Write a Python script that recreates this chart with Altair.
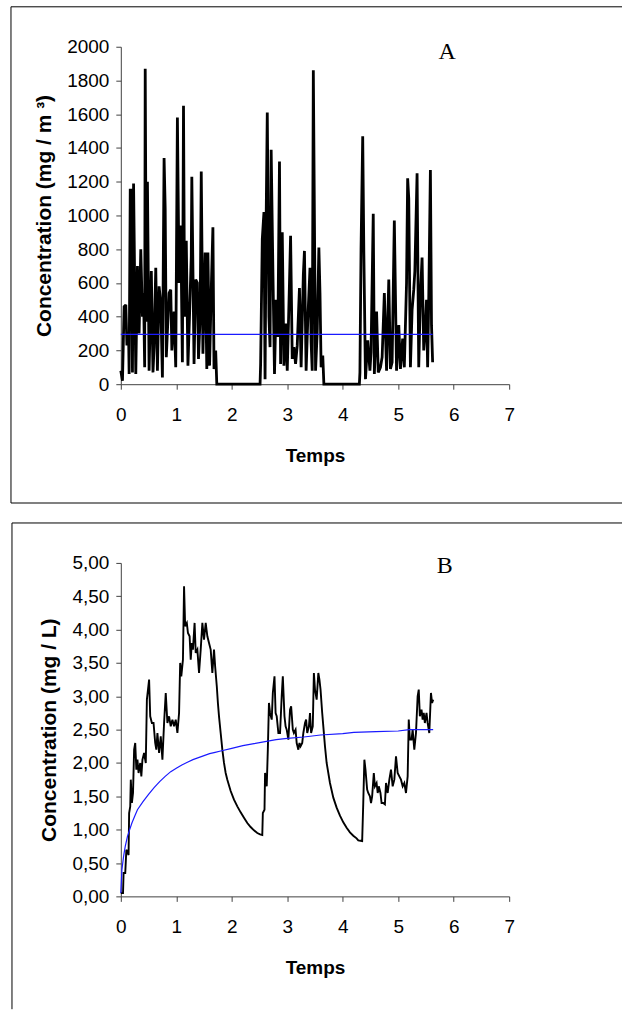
import altair as alt
import pandas as pd

# ---------------- Panel A data ----------------
ta = [0.00, 0.03, 0.06, 0.09, 0.11, 0.14, 0.15, 0.17, 0.19, 0.21, 0.23, 0.25, 0.27, 0.30, 0.33,
      0.36, 0.39, 0.41, 0.43, 0.44, 0.46, 0.48, 0.51, 0.55, 0.58, 0.60, 0.63, 0.66, 0.69, 0.72,
      0.75, 0.78, 0.80, 0.82, 0.87, 0.90, 0.92, 0.96, 0.99, 1.02, 1.05, 1.08, 1.11, 1.13, 1.15,
      1.18, 1.21, 1.24, 1.27, 1.28, 1.32, 1.35, 1.38, 1.40, 1.43, 1.45, 1.48, 1.52, 1.55, 1.57,
      1.60, 1.63, 1.66, 1.68, 1.71, 1.73,
      2.51,
      2.52, 2.55, 2.58, 2.60, 2.62, 2.64, 2.67, 2.69, 2.71, 2.74, 2.77, 2.80, 2.83, 2.86, 2.88,
      2.91, 2.94, 2.97, 3.00, 3.04, 3.06, 3.09, 3.12, 3.15, 3.18, 3.22, 3.25, 3.29, 3.31, 3.34,
      3.37, 3.41, 3.43, 3.45, 3.47, 3.51, 3.54, 3.57, 3.59, 3.61, 3.64, 3.66,
      4.30,
      4.31, 4.33, 4.36, 4.38, 4.41, 4.45, 4.49, 4.51, 4.55, 4.57, 4.61, 4.64, 4.68, 4.71, 4.75,
      4.79, 4.83, 4.86, 4.89, 4.93, 4.97, 5.01, 5.04, 5.08, 5.11, 5.15, 5.17, 5.19, 5.22, 5.25,
      5.28, 5.30, 5.34, 5.37, 5.40, 5.43, 5.46, 5.49, 5.51, 5.53, 5.55, 5.58, 5.60, 5.62]
ca = [80, 20, 460, 470, 230, 300, 60, 1150, 1150, 70, 1190, 600, 60, 700, 300,
      800, 400, 540, 100, 1870, 370, 1200, 80, 670, 70, 220, 690, 80, 580, 480,
      40, 1340, 1040, 160, 540, 560, 200, 430, 100, 1580, 600, 940, 130, 1650, 400,
      850, 110, 420, 760, 1230, 120, 620, 600, 150, 400, 1260, 180, 780, 90, 780,
      110, 560, 930, 90, 200, 0,
      0,
      120, 860, 1020, 30, 990, 1610, 400, 220, 1390, 700, 60, 500, 280, 1320, 120,
      900, 110, 360, 80, 600, 880, 150, 220, 120, 230, 570, 100, 650, 790, 80,
      380, 690, 250, 80, 1860, 80, 310, 810, 540, 100, 170, 0,
      0,
      70, 800, 1470, 790, 30, 260, 80, 190, 1010, 60, 430, 70, 100, 160, 540,
      80, 620, 90, 130, 970, 80, 350, 90, 270, 100, 600, 1220, 1100, 100, 440,
      560, 670, 1250, 100, 530, 750, 200, 330, 500, 100, 500, 1270, 350, 130]
ta_mean = [0.00, 5.62]
ca_mean = [295, 295]

# ---------------- Panel B data ----------------
tb = [0.00, 0.04, 0.05, 0.08, 0.10, 0.14, 0.15, 0.17, 0.18, 0.20, 0.22, 0.24, 0.26, 0.28, 0.30,
      0.32, 0.35, 0.37, 0.39, 0.42, 0.45, 0.47, 0.49, 0.51, 0.53, 0.56, 0.59, 0.62, 0.64, 0.66,
      0.69, 0.72, 0.75, 0.78, 0.81, 0.84, 0.87, 0.90, 0.93, 0.96, 0.99, 1.02, 1.05, 1.07, 1.09,
      1.12, 1.14, 1.16, 1.19, 1.21, 1.24, 1.26, 1.28, 1.30, 1.33, 1.35, 1.38, 1.41, 1.44, 1.47,
      1.50, 1.53, 1.56, 1.59, 1.62, 1.65, 1.68, 1.70, 1.73, 1.75, 1.77, 1.80, 1.83, 1.86, 1.89,
      1.92, 1.98, 2.04, 2.10, 2.16, 2.22, 2.28, 2.34, 2.40, 2.46, 2.51, 2.55,
      2.56, 2.59, 2.60, 2.63, 2.65, 2.67, 2.69, 2.72, 2.74, 2.77, 2.79, 2.81, 2.84, 2.87, 2.90,
      2.92, 2.95, 2.97, 2.99, 3.02, 3.05, 3.07, 3.10, 3.12, 3.15, 3.17, 3.20, 3.22, 3.24, 3.27,
      3.29, 3.32, 3.34, 3.36, 3.39, 3.41, 3.43, 3.46, 3.48, 3.50, 3.53, 3.56, 3.58, 3.60, 3.63,
      3.65, 3.68, 3.71, 3.77, 3.83, 3.89, 3.95, 4.01, 4.07, 4.13, 4.19, 4.25, 4.28, 4.35,
      4.37, 4.39, 4.41, 4.44, 4.46, 4.49, 4.51, 4.53, 4.56, 4.58, 4.61, 4.63, 4.65, 4.68, 4.70,
      4.73, 4.76, 4.78, 4.81, 4.84, 4.87, 4.90, 4.93, 4.96, 4.99, 5.02, 5.05, 5.08, 5.11, 5.14,
      5.17, 5.19, 5.21, 5.24, 5.26, 5.29, 5.32, 5.35, 5.37, 5.39, 5.42, 5.44, 5.46, 5.48, 5.51,
      5.53, 5.56, 5.59, 5.61, 5.63]
cb = [0.05, 0.05, 0.35, 0.35, 0.70, 0.62, 1.25, 1.35, 1.75, 1.40, 1.55, 2.20, 2.30, 1.90, 2.05,
      1.85, 2.00, 1.80, 2.05, 2.15, 2.00, 2.95, 3.10, 3.25, 2.70, 2.60, 2.60, 2.30, 2.20, 2.45,
      2.15, 2.40, 2.05, 2.60, 3.05, 2.60, 2.70, 2.55, 2.65, 2.55, 2.65, 2.45, 2.75, 3.50, 3.30,
      3.55, 4.65, 4.05, 4.10, 3.95, 3.90, 3.55, 3.80, 3.70, 4.10, 3.65, 3.70, 3.35, 3.70, 4.10,
      3.85, 4.10, 3.90, 3.80, 3.70, 3.35, 3.70, 3.45, 3.15, 2.90, 2.70, 2.45, 2.20, 2.00, 1.85,
      1.75, 1.58, 1.45, 1.35, 1.26, 1.18, 1.10, 1.04, 0.99, 0.95, 0.93, 0.92,
      1.25, 1.30, 1.85, 1.65, 2.20, 2.90, 2.75, 2.65, 3.05, 3.30, 2.75, 2.70, 2.45, 2.45, 3.00,
      3.30, 2.70, 2.55, 2.50, 2.35, 2.80, 2.85, 2.50, 2.45, 2.50, 2.30, 2.20, 2.30, 2.25, 2.30,
      2.45, 2.60, 2.65, 2.45, 2.55, 2.75, 2.45, 2.55, 3.35, 3.10, 2.95, 3.35, 3.25, 3.10, 2.75,
      2.55, 2.25, 2.00, 1.70, 1.48, 1.33, 1.21, 1.11, 1.03, 0.96, 0.91, 0.87, 0.84, 0.83,
      1.40, 2.05, 1.90, 1.60, 1.55, 1.50, 1.40, 1.50, 1.85, 1.65, 1.70, 1.55, 1.65, 1.55, 1.40,
      1.40, 1.38, 1.70, 1.55, 1.75, 1.90, 1.65, 1.75, 2.10, 1.85, 1.80, 1.75, 1.65, 1.70, 1.55,
      1.80, 2.65, 2.35, 2.35, 2.50, 2.20, 2.45, 3.00, 3.10, 2.70, 2.80, 2.65, 2.75, 2.60, 2.75,
      2.60, 2.45, 3.05, 2.90, 2.95]
tb_mean = [0.00, 0.02, 0.05, 0.08, 0.12, 0.16, 0.20, 0.25, 0.30, 0.40, 0.50, 0.60, 0.70, 0.80,
           0.90, 1.00, 1.10, 1.20, 1.30, 1.40, 1.50, 1.60, 1.70, 1.80, 2.00, 2.20, 2.40, 2.60,
           2.80, 3.00, 3.30, 3.60, 4.00, 4.20, 4.60, 5.00, 5.20, 5.63]
cb_mean = [0.05, 0.40, 0.60, 0.75, 0.90, 1.00, 1.10, 1.20, 1.30, 1.42, 1.53, 1.63, 1.72, 1.80,
           1.87, 1.92, 1.97, 2.01, 2.05, 2.08, 2.11, 2.14, 2.16, 2.18, 2.22, 2.26, 2.29, 2.32,
           2.35, 2.37, 2.39, 2.42, 2.44, 2.46, 2.47, 2.48, 2.50, 2.50]

panel_labels = ["A", "B"]
label_t = [5.88, 5.84]
label_c = [1970, 4.95]

# ---------------- build ----------------
W, HA, HB = 389, 338, 334

dfa = pd.DataFrame({"t": ta, "c": ca, "i": range(len(ta))})
dfa_m = pd.DataFrame({"t": ta_mean, "c": ca_mean, "i": range(len(ta_mean))})
dfb = pd.DataFrame({"t": tb, "c": cb, "i": range(len(tb))})
dfb_m = pd.DataFrame({"t": tb_mean, "c": cb_mean, "i": range(len(tb_mean))})
dfa_lab = pd.DataFrame({"t": [label_t[0]], "c": [label_c[0]], "lab": [panel_labels[0]]})
dfb_lab = pd.DataFrame({"t": [label_t[1]], "c": [label_c[1]], "lab": [panel_labels[1]]})

axis_style = dict(
    grid=False, labelFont="Liberation Sans", labelFontSize=19, labelColor="#000000",
    titleFont="Liberation Sans", titleFontWeight="bold", titleColor="#000000",
    domainColor="#404040", tickColor="#404040", labelFlush=False, labelOverlap=False,
    labelSeparation=0, tickSize=5,
)

x_enc = alt.X("t:Q", scale=alt.Scale(domain=[0, 7], nice=False),
              axis=alt.Axis(values=list(range(8)), format="d", title="Temps",
                            titleFontSize=19, labelPadding=16, titlePadding=22, **axis_style))
ya_enc = alt.Y("c:Q", scale=alt.Scale(domain=[0, 2000], nice=False),
               axis=alt.Axis(values=list(range(0, 2001, 200)), format="d",
                             title="Concentration (mg / m ³)", titleFontSize=21,
                             labelPadding=7, titlePadding=12, **axis_style))
yb_enc = alt.Y("c:Q", scale=alt.Scale(domain=[0, 5], nice=False),
               axis=alt.Axis(values=[i * 0.5 for i in range(11)],
                             labelExpr="replace(format(datum.value, '.2f'), '.', ',')",
                             title="Concentration (mg / L)", titleFontSize=21,
                             labelPadding=7, titlePadding=12, **axis_style))

one = alt.Data(values=[{"k": 1}])
frame_style = dict(color="#000000", strokeWidth=1)

# Panel A
base_a = alt.Chart().encode(x=x_enc, y=ya_enc)
a_line = base_a.mark_line(color="#000000", strokeWidth=2.8, strokeJoin="miter",
                          strokeMiterLimit=2).encode(order="i:Q").properties(data=dfa)
a_mean = base_a.mark_line(color="#1a1aff", strokeWidth=1.2).encode(order="i:Q").properties(data=dfa_m)
a_lab = base_a.mark_text(font="Liberation Serif", fontSize=24, color="#000000").encode(
    text="lab:N").properties(data=dfa_lab)
a_left = alt.Chart(one).mark_rule(**frame_style).encode(
    x=alt.value(-110), y=alt.value(-40), y2=alt.value(457))
a_top = alt.Chart(one).mark_rule(**frame_style).encode(
    x=alt.value(-110), x2=alt.value(502), y=alt.value(-40))
a_bot = alt.Chart(one).mark_rule(**frame_style).encode(
    x=alt.value(-110), x2=alt.value(502), y=alt.value(457))
panel_a = alt.layer(a_line, a_mean, a_lab, a_left, a_top, a_bot).properties(width=W, height=HA)

# Panel B
base_b = alt.Chart().encode(x=x_enc, y=yb_enc)
b_line = base_b.mark_line(color="#000000", strokeWidth=1.9).encode(order="i:Q").properties(data=dfb)
b_mean = base_b.mark_line(color="#1a1aff", strokeWidth=1.2).encode(order="i:Q").properties(data=dfb_m)
b_lab = base_b.mark_text(font="Liberation Serif", fontSize=24, color="#000000").encode(
    text="lab:N").properties(data=dfb_lab)
b_left = alt.Chart(one).mark_rule(**frame_style).encode(
    x=alt.value(-109), y=alt.value(-40), y2=alt.value(447))
b_top = alt.Chart(one).mark_rule(**frame_style).encode(
    x=alt.value(-109), x2=alt.value(502), y=alt.value(-40))
panel_b = alt.layer(b_line, b_mean, b_lab, b_left, b_top).properties(width=W, height=HB)

chart = alt.vconcat(panel_a, panel_b, spacing=179, bounds="flush").properties(
    padding={"left": 10, "top": 5, "right": 0, "bottom": 0},
    background="#ffffff",
).configure_view(stroke="transparent").configure_axis(labelOverlap=False)

chart.save("out.html", embed_options={"renderer": "svg", "actions": False})
